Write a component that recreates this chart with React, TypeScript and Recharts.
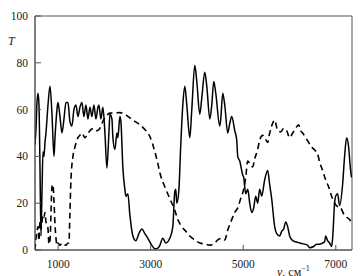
import React from 'react';
import { LineChart, Line, XAxis, YAxis, ReferenceArea } from 'recharts';

// Solid spectrum: wavenumber (cm^-1) and transmission T (%)
const solidNu = [
  500, 522, 543, 565, 586, 608, 629, 651, 673, 694, 716, 737, 781, 824, 867, 910, 932, 975, 996, 1040,
  1083, 1126, 1169, 1212, 1255, 1298, 1341, 1385, 1428, 1471, 1514, 1557, 1600, 1644, 1687, 1730, 1773, 1816, 1860, 1881,
  1924, 1967, 2011, 2054, 2097, 2119, 2162, 2183, 2226, 2270, 2291, 2334, 2356, 2399, 2442, 2464, 2507, 2550, 2615, 2680,
  2745, 2809, 2874, 2939, 3025, 3090, 3154, 3198, 3262, 3327, 3413, 3478, 3521, 3542, 3564, 3607, 3650, 3694, 3737, 3780,
  3845, 3888, 3953, 3996, 4061, 4104, 4169, 4212, 4277, 4320, 4363, 4406, 4492, 4514, 4557, 4600, 4665, 4708, 4751, 4816,
  4859, 4881, 4924, 4989, 5010, 5053, 5097, 5140, 5183, 5226, 5269, 5312, 5355, 5399, 5463, 5528, 5571, 5614, 5679, 5723,
  5787, 5830, 5874, 5917, 5960, 6003, 6068, 6132, 6219, 6327, 6391, 6435, 6521, 6586, 6650, 6715, 6759, 6780, 6823, 6866,
  6909, 6931, 6974, 6996, 7039, 7082, 7147, 7190, 7234, 7277, 7298, 7320, 7341,
];
const solidT = [
  45, 52, 63, 67, 62, 35, 6, 25, 42, 40, 46, 50, 62, 70, 58, 40, 48, 60, 63, 57,
  50, 56, 63, 63, 55, 53, 60, 62, 57, 61, 63, 57, 62, 56, 61, 57, 62, 56, 61, 62,
  56, 61, 50, 35, 50, 58, 56, 48, 43, 50, 48, 57, 55, 35, 26, 23, 24, 15, 6, 4,
  7, 9, 7, 5, 2, 0.5, 0.8, 2, 5, 3, 5, 10, 25, 26, 20, 25, 45, 62, 70, 62,
  48, 60, 79, 72, 58, 65, 76, 70, 56, 62, 72, 67, 53, 56, 67, 62, 50, 54, 57, 51,
  47, 40, 38, 32, 31, 24, 26, 20, 16, 18, 23, 20, 26, 23, 30, 34, 28, 22, 10, 7,
  6, 8, 9, 12, 10, 6, 4, 3.5, 3, 2.5, 2, 1, 1.5, 2.5, 2.5, 3, 3.5, 6, 4, 3,
  1.5, 5, 20, 23, 24, 19, 28, 40, 48, 44, 39, 34, 31,
];

// Dashed spectrum
const dashNu = [
  500, 522, 543, 565, 586, 608, 629, 673, 694, 716, 737, 759, 781, 802, 824, 867, 888, 910, 932, 953,
  975, 996, 1040, 1083, 1126, 1169, 1212, 1233, 1255, 1277, 1320, 1363, 1428, 1471, 1514, 1579, 1622, 1687, 1773, 1838,
  1903, 1967, 2032, 2119, 2226, 2334, 2442, 2550, 2658, 2766, 2874, 2982, 3090, 3154, 3198, 3305, 3413, 3521, 3586, 3672,
  3758, 3845, 3953, 4061, 4169, 4277, 4384, 4449, 4535, 4600, 4665, 4751, 4816, 4881, 4945, 5010, 5053, 5097, 5140, 5204,
  5248, 5312, 5355, 5420, 5463, 5528, 5571, 5614, 5679, 5744, 5809, 5874, 5938, 6003, 6068, 6132, 6197, 6240, 6283, 6348,
  6413, 6478, 6543, 6607, 6650, 6715, 6780, 6845, 6909, 6974, 7039, 7104, 7169, 7234, 7298, 7341,
];
const dashT = [
  0, 5, 8, 10, 4, 12, 9, 15, 14, 16, 12, 11, 9, 2.5, 4, 27, 28, 21, 11, 5,
  2, 3, 2, 3, 2.5, 2, 3, 3, 16, 30, 40, 44, 48, 49, 50, 48, 49, 51, 52, 51,
  52, 55, 57, 58.5, 58.6, 58.7, 58, 56.5, 55, 53.5, 51.5, 48.5, 42, 37, 33, 27, 22, 17, 13, 10,
  8, 6, 4.3, 3, 2.6, 2.1, 3, 4.3, 5, 4.3, 8.5, 13, 16, 18, 22, 26, 31, 38, 37, 35.5,
  39, 43, 47, 49, 48, 46, 50, 53, 55.5, 51, 50.5, 52, 51, 48, 50, 52, 53.5, 51, 50, 48,
  46, 44, 42.7, 41, 37.6, 34, 30, 27, 23, 20, 18.5, 18, 15.5, 14, 13, 11.5,
];

const xTicks = [1000, 3000, 5000, 7000];
const yTicks = [0, 20, 40, 60, 80, 100];

const solidData = solidNu.map((v, i) => ({ v, t: solidT[i] }));
const dashData = dashNu.map((v, i) => ({ v, t: dashT[i] }));

const FONT = '"Liberation Serif", "DejaVu Serif", "Times New Roman", serif';
const AX = '#555';

function YTick(props: any) {
  const { x, y, payload } = props;
  return (
    <g>
      <line x1={x} x2={x + 6} y1={y} y2={y} stroke={AX} strokeWidth={1} />
      <text x={x - 7} y={y} dy={4} textAnchor="end" fontSize={11.5} fontFamily={FONT} fill="#222">
        {payload.value}
      </text>
    </g>
  );
}

function XTick(props: any) {
  const { x, y, payload } = props;
  return (
    <g>
      <line x1={x} x2={x} y1={y} y2={y - 5} stroke={AX} strokeWidth={1} />
      <text x={x} y={y + 18} textAnchor="middle" fontSize={11.5} fontFamily={FONT} fill="#222">
        {payload.value}
      </text>
    </g>
  );
}

export default function App() {
  return (
    <div style={{ position: 'absolute', left: 0, top: 0, width: 363, height: 276, background: '#fff', overflow: 'hidden' }}>
      <LineChart width={363} height={276} margin={{ top: 16, right: 11, left: 5, bottom: 0 }}>
        <XAxis
          type="number"
          dataKey="v"
          domain={[500, 7350]}
          ticks={xTicks}
          tick={<XTick />}
          tickLine={false}
          tickSize={0}
          tickMargin={0}
          height={26}
          axisLine={{ stroke: AX }}
          allowDataOverflow
        />
        <YAxis
          type="number"
          domain={[0, 100]}
          ticks={yTicks}
          tick={<YTick />}
          tickLine={false}
          tickSize={0}
          tickMargin={0}
          width={30}
          axisLine={{ stroke: AX }}
          allowDataOverflow
        />
        <ReferenceArea x1={500} x2={7350} y1={0} y2={100} fill="none" stroke={AX} strokeWidth={1} ifOverflow="visible" />
        <Line
          data={dashData}
          dataKey="t"
          type="monotone"
          stroke="#000"
          strokeWidth={1.6}
          strokeDasharray="6 4"
          dot={false}
          activeDot={false}
          isAnimationActive={false}
        />
        <Line
          data={solidData}
          dataKey="t"
          type="monotone"
          stroke="#000"
          strokeWidth={1.5}
          dot={false}
          activeDot={false}
          isAnimationActive={false}
        />
      </LineChart>
      <div style={{ position: 'absolute', left: 8, top: 34, fontFamily: FONT, fontStyle: 'italic', fontSize: 12, color: '#222' }}>T</div>
      <div style={{ position: 'absolute', left: 277, top: 264, fontFamily: FONT, fontSize: 12, color: '#222', whiteSpace: 'nowrap' }}>
        <i>ν</i>, см<sup style={{ fontSize: 8 }}>−1</sup>
      </div>
    </div>
  );
}
